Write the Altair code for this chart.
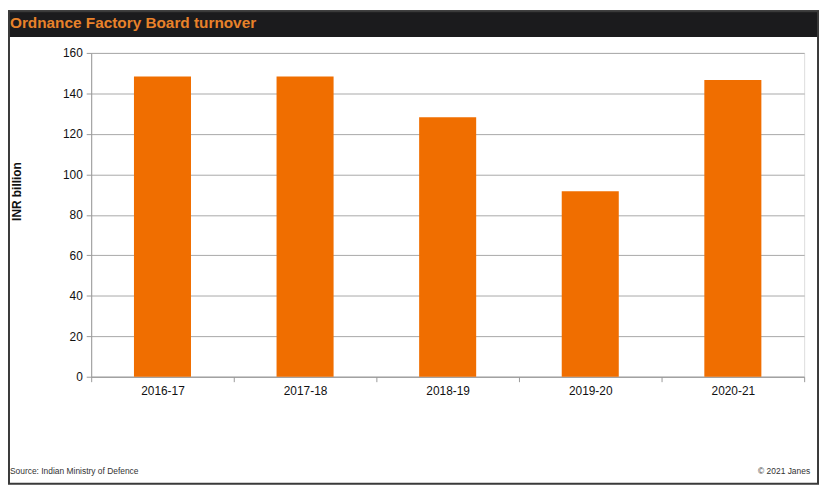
import altair as alt
import pandas as pd

years = ["2016-17", "2017-18", "2018-19", "2019-20", "2020-21"]
turnover = [148.3, 148.3, 128.2, 91.6, 146.6]
y_ticks = [0, 20, 40, 60, 80, 100, 120, 140, 160]
title_text = "Ordnance Factory Board turnover"
y_title = "INR billion"
source_text = "Source:  Indian  Ministry of Defence"
copyright_text = "\u00a9 2021  Janes"

df = pd.DataFrame({"year": years, "value": turnover})
one = pd.DataFrame({"k": [0]})

W, H = 720, 327
PL, PT, PR, PB = 84, 43, 15, 109
FONT = "Liberation Sans"

frame = alt.Chart(one).mark_rect(fillOpacity=0, stroke="#3a3a3a", strokeWidth=2).encode(
    x=alt.value(-PL + 1), x2=alt.value(W + PR - 1),
    y=alt.value(-PT + 1), y2=alt.value(H + PB - 1))

header = alt.Chart(one).mark_rect(color="#1B1B1D").encode(
    x=alt.value(-PL), x2=alt.value(W + PR),
    y=alt.value(-PT), y2=alt.value(-16))

title = alt.Chart(one).mark_text(
    text=title_text, color="#E8822A", fontSize=15.5, fontWeight="bold", font=FONT,
    align="left", baseline="middle").encode(x=alt.value(-PL + 2), y=alt.value(-30))

bars = alt.Chart(df).mark_bar(color="#F06E00", width=alt.RelativeBandSize(0.4)).encode(
    x=alt.X("year:N", sort=years, title=None,
            scale=alt.Scale(paddingInner=0, paddingOuter=0),
            axis=alt.Axis(labelAngle=0, tickBand="extent", grid=False,
                          domainColor="#9A9A9A", tickColor="#9A9A9A", tickSize=5,
                          labelFontSize=12, labelColor="#111", labelPadding=4,
                          labelFont=FONT)),
    y=alt.Y("value:Q", title=None, scale=alt.Scale(domain=[0, 160], nice=False),
            axis=alt.Axis(values=y_ticks, gridColor="#A8A8A8", domainColor="#9A9A9A",
                          tickColor="#9A9A9A", tickSize=5, labelPadding=4,
                          labelFontSize=12, labelColor="#111", labelFont=FONT)))

ytitle = alt.Chart(one).mark_text(
    text=y_title, fontSize=12, fontWeight="bold", font=FONT, color="#111",
    angle=270, align="center", baseline="middle").encode(x=alt.value(-75), y=alt.value(140))

source = alt.Chart(one).mark_text(
    text=source_text, fontSize=8.5, font=FONT, color="#333",
    align="left", baseline="middle").encode(x=alt.value(-PL + 2), y=alt.value(422))

copy = alt.Chart(one).mark_text(
    text=copyright_text, fontSize=8.5, font=FONT, color="#333",
    align="right", baseline="middle").encode(x=alt.value(W + 6), y=alt.value(422))

chart = alt.layer(header, title, bars, ytitle, source, copy, frame).properties(
    width=W, height=H,
    padding={"left": PL, "top": PT, "right": PR, "bottom": PB},
    autosize=alt.AutoSizeParams(type="none"),
).configure_view(stroke=None).configure(font=FONT)

chart.save("out.html", embed_options={"renderer": "svg", "actions": False})
